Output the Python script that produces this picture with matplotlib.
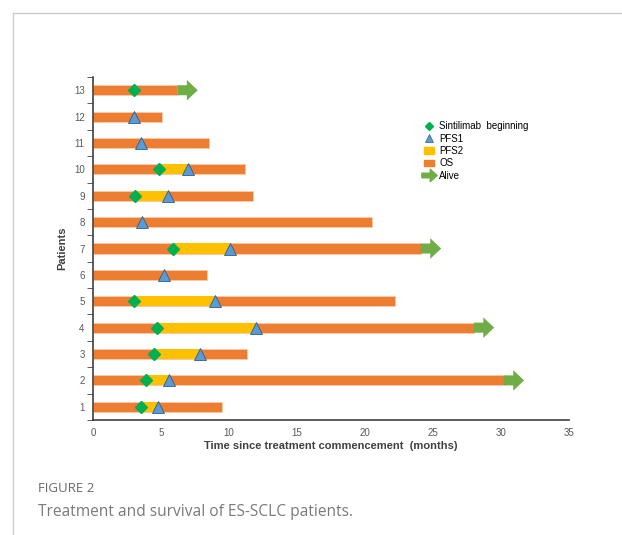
import matplotlib.pyplot as plt
import numpy as np
from matplotlib.patches import FancyArrow, Patch
from matplotlib.lines import Line2D
from matplotlib.path import Path

# patient data (months), nan = not present
patients = np.arange(1, 14)
os_months = [9.5, 30.2, 11.3, 28.0, 22.2, 8.4, 24.1, 20.5, 11.8, 11.2, 8.5, 5.1, 6.2]
sintilimab = [3.5, 3.9, 4.5, 4.7, 3.0, np.nan, 5.9, np.nan, 3.1, 4.85, np.nan, np.nan, 3.0]
pfs1 = [4.8, 5.6, 7.9, 12.0, 9.0, 5.2, 10.1, 3.6, 5.5, 6.95, 3.55, 3.0, np.nan]
alive = [False, True, False, True, False, False, True, False, False, False, False, False, True]

orange = '#ED7D31'
yellow = '#FFC000'
green = '#70AD47'
dgreen = '#00B050'
blue = '#5B9BD5'

plt.rcParams['font.family'] = ['Liberation Sans', 'DejaVu Sans']

fig = plt.figure(figsize=(6.22, 5.35), dpi=100)
ax = fig.add_axes([0.1495, 0.215, 0.7653, 0.641])

bh = 0.38
ax.barh(patients, os_months, height=bh, color=orange, edgecolor='#F8CBAD', linewidth=0.6, zorder=2)

for p, s, t in zip(patients, sintilimab, pfs1):
    if not np.isnan(s) and not np.isnan(t):
        ax.barh(p, t - s, left=s, height=bh, color=yellow, linewidth=0, zorder=3)

for p, o, a in zip(patients, os_months, alive):
    if a:
        ax.add_patch(FancyArrow(o, p, 1.5, 0, width=bh, head_width=0.78, head_length=0.8,
                                length_includes_head=True, color=green, linewidth=0, zorder=3))

ax.plot(sintilimab, patients, linestyle='none', marker='D', markersize=6,
        color=dgreen, markeredgecolor=dgreen, zorder=5)
ax.plot(pfs1, patients, linestyle='none', marker='^', markersize=8,
        color=blue, markeredgecolor='#2E5C8A', markeredgewidth=0.6, zorder=5)

ax.set_xlim(0, 35)
ax.set_ylim(0.5, 13.5)
ax.set_xticks(range(0, 36, 5))
ax.set_yticks(patients)
ax.set_yticks(np.arange(0.5, 14, 1), minor=True)
ax.tick_params(axis='y', which='major', length=0, labelsize=7, colors='#595959', pad=6)
ax.tick_params(axis='y', which='minor', length=4, color='#404040')
ax.tick_params(axis='x', length=0, labelsize=7, colors='#595959', pad=6)
for s in ['top', 'right']:
    ax.spines[s].set_visible(False)
ax.spines['left'].set_color('#404040')
ax.spines['bottom'].set_color('#404040')
ax.spines['left'].set_linewidth(1.2)
ax.spines['bottom'].set_linewidth(1.2)

ax.set_xlabel('Time since treatment commencement  (months)', fontsize=8, fontweight='bold',
              color='#404040', labelpad=2)
ax.set_ylabel('Patients', fontsize=8, fontweight='bold', color='#404040', labelpad=5)

# arrow-shaped marker for the legend
arrow_marker = Path([(-1, -0.3), (0.1, -0.3), (0.1, -0.8), (1, 0), (0.1, 0.8), (0.1, 0.3),
                     (-1, 0.3), (-1, -0.3)])
handles = [
    Line2D([], [], linestyle='none', marker='D', markersize=4.5, color=dgreen),
    Line2D([], [], linestyle='none', marker='^', markersize=6, color=blue,
           markeredgecolor='#2E5C8A', markeredgewidth=0.5),
    Patch(color=yellow),
    Patch(color=orange),
    Line2D([], [], linestyle='none', marker=arrow_marker, markersize=11, color=green),
]
labels = ['Sintilimab  beginning', 'PFS1', 'PFS2', 'OS', 'Alive']
ax.legend(handles, labels, loc='upper left', bbox_to_anchor=(0.678, 0.897), frameon=False,
          fontsize=7, handlelength=1.0, handleheight=0.7, handletextpad=0.5, labelspacing=0.25)

# page frame lines
fig.add_artist(Line2D([12.5 / 622, 12.5 / 622], [0, 1 - 12.5 / 535], color='#cccccc', lw=1))
fig.add_artist(Line2D([12.5 / 622, 1], [1 - 12.5 / 535, 1 - 12.5 / 535], color='#cccccc', lw=1))

fig.text(38 / 622, 1 - 492 / 535, 'FIGURE 2', fontsize=9.5, color='#6a6a6a', family='Open Sans',
         va='baseline')
fig.text(38 / 622, 1 - 516 / 535, 'Treatment and survival of ES-SCLC patients.', fontsize=11.2,
         color='#7a7a7a', family='Open Sans', va='baseline')

fig.savefig('out.png', dpi=100)
